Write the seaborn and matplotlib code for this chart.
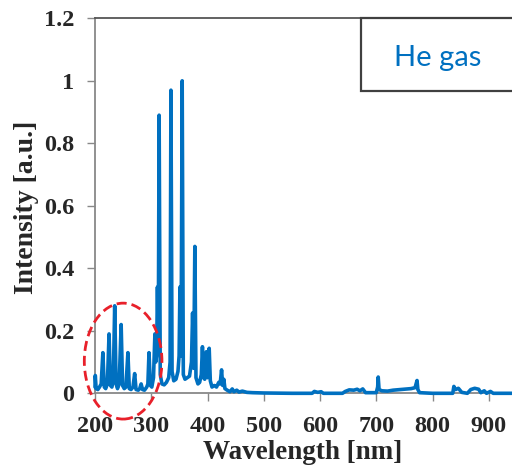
import matplotlib
matplotlib.use("Agg")
import pandas as pd
import matplotlib.pyplot as plt
from matplotlib.patches import Ellipse, Rectangle
import seaborn as sns

# spectrum (nm, a.u.)
wavelength = [200, 200.5, 202, 205, 208, 211, 214, 216.5, 219, 222, 225, 227.5, 230, 232.5,
              235, 237.5, 240, 243, 246.5, 249, 252, 255, 258.5, 261, 264, 267.5, 270.5, 273,
              277, 279.5, 282, 284.5, 288, 292, 294, 296, 298.5, 301, 304, 306.5, 308, 309.5,
              311, 312.5, 314, 316, 319, 323, 327, 331, 333.5, 335, 337, 340, 344, 347.5,
              349.5, 351, 353, 355, 357, 360, 364, 368, 371.5, 373.5, 375.5, 377.5, 379.5,
              383, 386, 389, 391, 393, 395, 398, 400, 403, 405, 408, 412, 416, 420, 422.5,
              425, 427, 429, 431, 435, 440, 444, 447, 452, 456, 462, 470, 480, 500, 550,
              586, 590, 596, 602, 606, 640, 645, 652, 660, 666, 671, 676, 681, 700, 702.5,
              703.5, 705, 710, 720, 730, 742, 752, 762, 769, 772.5, 774, 777, 800, 836, 838,
              841, 846, 852, 862, 868, 875, 882, 886, 892, 896, 903, 908, 950, 1000]
intensity = [0.02, 0.057, 0.015, 0.012, 0.02, 0.03, 0.13, 0.02, 0.015, 0.03, 0.19, 0.025, 0.02, 0.04,
             0.28, 0.03, 0.015, 0.03, 0.22, 0.025, 0.015, 0.02, 0.13, 0.015, 0.012, 0.02, 0.063, 0.012,
             0.01, 0.015, 0.03, 0.012, 0.01, 0.02, 0.03, 0.13, 0.025, 0.02, 0.05, 0.19, 0.1, 0.12,
             0.34, 0.15, 0.89, 0.06, 0.03, 0.027, 0.035, 0.05, 0.1, 0.97, 0.07, 0.04, 0.045, 0.07,
             0.12, 0.34, 0.12, 1.0, 0.06, 0.045, 0.05, 0.055, 0.1, 0.257, 0.08, 0.47, 0.05,
             0.03, 0.035, 0.06, 0.149, 0.05, 0.045, 0.133, 0.05, 0.144, 0.04, 0.02, 0.025, 0.02, 0.035, 0.03,
             0.075, 0.025, 0.045, 0.015, 0.01, 0.005, 0.014, 0.005, 0.01, 0.004, 0.007, 0.003, 0.002, 0.001, 0.0,
             0.0, 0.006, 0.003, 0.005, 0.0, 0.0, 0.006, 0.011, 0.01, 0.013, 0.008, 0.014, 0.002, 0.002, 0.02,
             0.052, 0.012, 0.008, 0.007, 0.01, 0.012, 0.014, 0.015, 0.018, 0.041, 0.012, 0.002, 0.0, 0.0, 0.022,
             0.012, 0.016, 0.003, 0.0, 0.012, 0.016, 0.013, 0.002, 0.008, 0.0, 0.006, 0.0, 0.0, 0.0]

x_ticks = [200, 300, 400, 500, 600, 700, 800, 900]
y_ticks = [0, 0.2, 0.4, 0.6, 0.8, 1.0, 1.2]
y_tick_labels = ["0", "0.2", "0.4", "0.6", "0.8", "1", "1.2"]

sns.set_style("white")
plt.rcParams['font.family'] = ['Liberation Serif', 'DejaVu Serif']
plt.rcParams['font.weight'] = 'bold'

fig = plt.figure(figsize=(5.12, 4.71), dpi=100)
# axes run past the right edge, as in the cropped reference
ax = fig.add_axes([95 / 512, 1 - 393.3 / 471, 450 / 512, 375 / 471])

df = pd.DataFrame({"wavelength": wavelength, "intensity": intensity})
sns.lineplot(data=df, x="wavelength", y="intensity", ax=ax, color="#0070C0",
             linewidth=2.6, estimator=None, clip_on=False, zorder=3)

ax.set_xlim(200, 1000)
ax.set_ylim(0, 1.2)
ax.set_xticks(x_ticks)
ax.set_yticks(y_ticks)
ax.set_yticklabels(y_tick_labels)

for side in ["left", "bottom"]:
    ax.spines[side].set_color("#888888")
    ax.spines[side].set_linewidth(1.3)
ax.spines["top"].set_color("#555555")
ax.spines["top"].set_linewidth(1.3)
ax.spines["right"].set_visible(False)

ax.tick_params(axis="y", direction="out", length=6, width=1, color="#888888",
               pad=9, labelsize=17.5, left=True)
ax.tick_params(axis="x", direction="out", length=6, width=1, color="#888888",
               pad=10, labelsize=17.5, bottom=True)

ax.set_xlabel("Wavelength [nm]", fontsize=19.5, fontweight="bold")
ax.set_ylabel("Intensity [a.u.]", fontsize=20, fontweight="bold")
ax.xaxis.set_label_coords(0.462, -0.124)
ax.yaxis.set_label_coords(-0.124, 0.497)

# legend-like box
ax.add_patch(Rectangle((0.591, 0.807), 0.6, 0.193, transform=ax.transAxes,
                       facecolor="white", edgecolor="#404040", linewidth=1.6,
                       clip_on=False, zorder=4))
ax.text(0.762, 0.874, "He gas", transform=ax.transAxes, ha="center", va="baseline",
        color="#0070C0", fontsize=21, fontweight="normal", family=["Lato", "DejaVu Sans"],
        zorder=5)

# red dashed highlight ellipse
ax.add_patch(Ellipse((250, 0.103), 138, 0.371, fill=False, edgecolor="#E8202A",
                     linewidth=2, linestyle=(0, (3.6, 1.8)), clip_on=False, zorder=6))

plt.savefig("out.png", dpi=100)
